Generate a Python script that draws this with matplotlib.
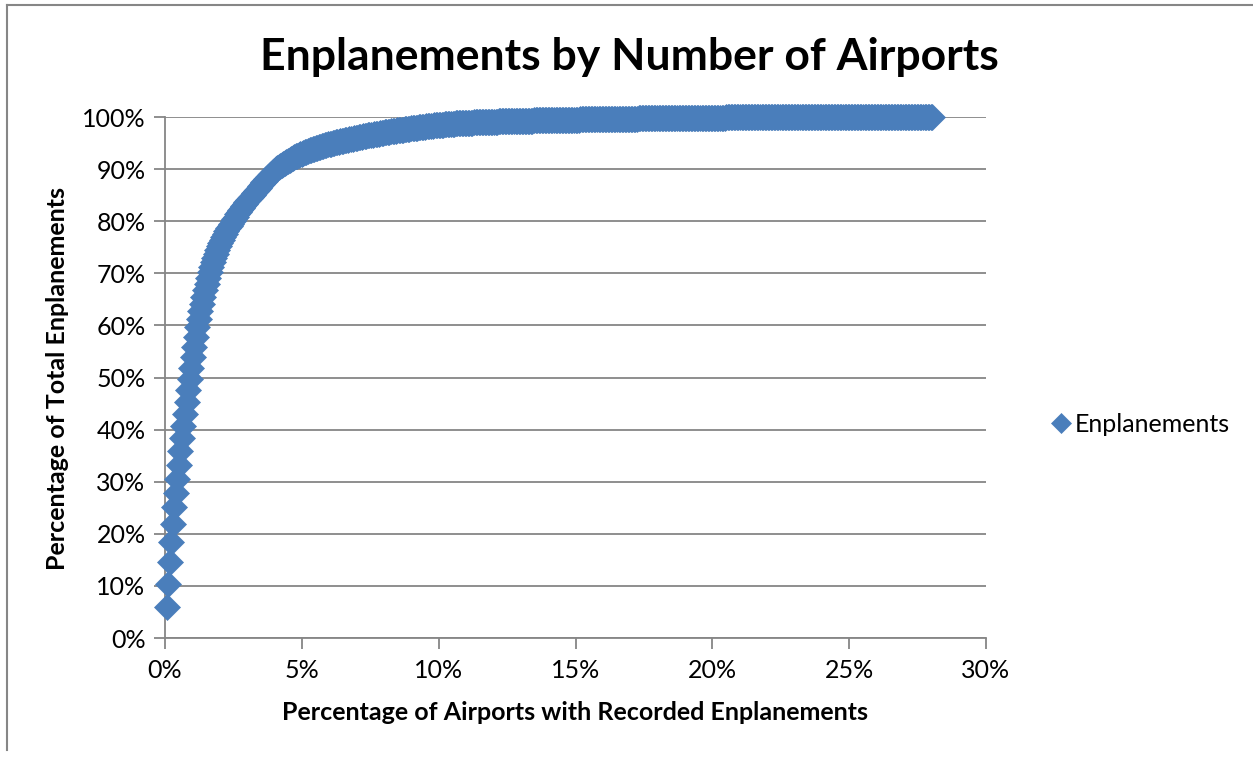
import numpy as np
import matplotlib
matplotlib.use("Agg")
import matplotlib.pyplot as plt
from matplotlib.lines import Line2D

# ---- data -------------------------------------------------------------
TITLE = "Enplanements by Number of Airports"
X_LABEL = "Percentage of Airports with Recorded Enplanements"
Y_LABEL = "Percentage of Total Enplanements"
SERIES_NAME = "Enplanements"

# airports with recorded enplanements (denominator of the x axis)
TOTAL_AIRPORTS = 1780

# cumulative share of total enplanements (%), airports ranked by size
cumulative_share_pct = [
    6.0, 10.4, 14.6, 18.4, 21.8, 25.1, 27.8, 30.5, 33.3, 35.8, 38.3, 40.7, 43.0, 45.3, 47.6, 49.8,
    51.9, 53.9, 55.85, 57.75, 59.6, 61.2, 62.7, 64.15, 65.5, 66.8, 68.0, 69.15, 70.25,
    71.2, 72.1, 72.95, 73.75, 74.5, 75.2, 75.86, 76.48, 77.06, 77.61, 78.13, 78.62, 79.09, 79.54, 79.97,
    80.42, 80.86, 81.29, 81.71, 82.12, 82.52, 82.91, 83.29, 83.66, 84.02, 84.37, 84.71, 85.04, 85.36,
    85.72, 86.08, 86.43, 86.78, 87.13, 87.47, 87.81, 88.14, 88.47, 88.79, 89.10, 89.40, 89.68, 89.94,
    90.18, 90.41, 90.63, 90.84, 91.04, 91.23, 91.42, 91.60, 91.77, 91.94, 92.10, 92.26, 92.42,
    92.57, 92.71, 92.85, 92.99, 93.12, 93.24, 93.36, 93.48, 93.59, 93.70, 93.81, 93.92,
    94.02, 94.12, 94.21, 94.31, 94.40, 94.49, 94.57, 94.66, 94.74, 94.83, 94.91, 94.99,
    95.06, 95.14, 95.21, 95.28, 95.35, 95.42, 95.48, 95.55, 95.61, 95.68, 95.74,
    95.80, 95.86, 95.92, 95.98, 96.04, 96.10, 96.16, 96.22, 96.28, 96.34, 96.39, 96.45, 96.51, 96.56,
    96.61, 96.67, 96.72, 96.78, 96.83, 96.88, 96.93, 96.98, 97.03, 97.08, 97.13, 97.18, 97.23, 97.28,
    97.32, 97.37, 97.42, 97.46, 97.51, 97.55, 97.60, 97.64, 97.68, 97.73, 97.77, 97.81, 97.85, 97.89,
    97.93, 97.97, 98.01, 98.05, 98.09, 98.12, 98.16, 98.20, 98.23, 98.27, 98.30, 98.34, 98.37, 98.40,
    98.43, 98.47,
    98.501, 98.531, 98.560, 98.588, 98.615, 98.641, 98.666, 98.690, 98.713, 98.735, 98.756,
    98.776, 98.795, 98.813, 98.831, 98.848, 98.865, 98.881, 98.897, 98.912, 98.927, 98.941,
    98.955, 98.969, 98.982, 98.995, 99.007, 99.019, 99.031, 99.043, 99.054, 99.065, 99.076,
    99.087, 99.097, 99.107, 99.117, 99.127, 99.137, 99.146, 99.156, 99.165, 99.174, 99.183,
    99.192, 99.201, 99.209, 99.218, 99.227, 99.236, 99.245, 99.253, 99.262,
    99.270, 99.278, 99.286, 99.294, 99.302, 99.310, 99.318, 99.326, 99.334,
    99.341, 99.348, 99.356, 99.363, 99.370, 99.377, 99.384, 99.392, 99.399,
    99.405, 99.411, 99.418, 99.424, 99.431, 99.437, 99.443, 99.450, 99.456,
    99.462, 99.468, 99.473, 99.479, 99.485, 99.490, 99.496, 99.502, 99.507,
    99.513, 99.518, 99.524, 99.529, 99.535, 99.541, 99.546, 99.552, 99.557, 99.563, 99.569, 99.574,
    99.579, 99.584, 99.589, 99.594, 99.600, 99.605, 99.610, 99.615, 99.620, 99.625, 99.630, 99.635,
    99.640, 99.645, 99.650, 99.654, 99.659, 99.664, 99.669, 99.674, 99.678, 99.683, 99.688, 99.693,
    99.698, 99.702, 99.707, 99.711, 99.716, 99.720, 99.725, 99.729, 99.734, 99.738, 99.743, 99.747,
    99.751, 99.755, 99.758, 99.762, 99.766, 99.770, 99.774, 99.777, 99.781, 99.785,
    99.789, 99.793, 99.796, 99.800, 99.804, 99.808, 99.812, 99.815, 99.819, 99.823,
    99.827, 99.831, 99.834, 99.838, 99.842, 99.846, 99.850, 99.853, 99.857, 99.861,
    99.863, 99.865, 99.868, 99.870, 99.872, 99.874, 99.876, 99.879, 99.881, 99.883,
    99.885, 99.887, 99.890, 99.892, 99.894, 99.896, 99.898, 99.901, 99.903, 99.905,
    99.907, 99.909, 99.912, 99.914, 99.916, 99.918, 99.920, 99.923, 99.925, 99.927,
    99.928, 99.929, 99.931, 99.932, 99.933, 99.934, 99.935, 99.937, 99.938, 99.939,
    99.940, 99.941, 99.943, 99.944, 99.945, 99.946, 99.947, 99.949, 99.950, 99.951,
    99.952, 99.953, 99.955, 99.956, 99.957, 99.958, 99.959, 99.961, 99.962, 99.963,
    99.964, 99.964, 99.965, 99.966, 99.967, 99.967, 99.968, 99.969, 99.970, 99.970,
    99.971, 99.972, 99.972, 99.973, 99.974, 99.974, 99.975, 99.976, 99.977, 99.977,
    99.978, 99.979, 99.979, 99.980, 99.981, 99.981, 99.982, 99.983, 99.984, 99.984,
    99.984, 99.985, 99.985, 99.986, 99.986, 99.986, 99.987, 99.987, 99.988, 99.988,
    99.988, 99.989, 99.989, 99.990, 99.990, 99.990, 99.991, 99.991, 99.992, 99.992,
    99.992, 99.993, 99.993, 99.994, 99.994, 99.994, 99.995, 99.995, 99.996, 99.996,
    99.996, 99.996, 99.996, 99.997, 99.997, 99.997, 99.997, 99.997, 99.997, 99.997,
    99.998, 99.998, 99.998, 99.998, 99.998, 99.998, 99.998, 99.998,
    99.999, 99.999, 99.999, 99.999, 99.999, 99.999, 99.999, 99.999, 99.999,
    100.0, 100.0, 100.0, 100.0, 100.0, 100.0, 100.0,
]

x_ticks = [0.00, 0.05, 0.10, 0.15, 0.20, 0.25, 0.30]
x_tick_labels = ["0%", "5%", "10%", "15%", "20%", "25%", "30%"]
y_ticks = [0.0, 0.1, 0.2, 0.3, 0.4, 0.5, 0.6, 0.7, 0.8, 0.9, 1.0]
y_tick_labels = ["0%", "10%", "20%", "30%", "40%", "50%", "60%", "70%", "80%", "90%", "100%"]

# ---- style ------------------------------------------------------------
BLUE = "#4a7ebb"
GRID = "#868686"
TEXT = "#000000"

plt.rcParams["font.family"] = ["Lato", "DejaVu Sans"]

W, H = 1253, 757
fig = plt.figure(figsize=(W / 100, H / 100), dpi=100)
fig.patch.set_facecolor("white")

# chart-area border (left and top edges)
fig.add_artist(Line2D([7 / W, 7 / W], [1 - 5 / H, 1 - 750 / H],
                      transform=fig.transFigure, color=GRID, lw=1.5))
fig.add_artist(Line2D([7 / W, 1.0], [1 - 5 / H, 1 - 5 / H],
                      transform=fig.transFigure, color=GRID, lw=1.5))

ax = fig.add_axes([165 / W, 1 - 638 / H, 821 / W, 521 / H])

airport_frac = np.arange(1, len(cumulative_share_pct) + 1) / TOTAL_AIRPORTS
share_frac = np.asarray(cumulative_share_pct) / 100.0

ax.plot(airport_frac, share_frac, linestyle="none", marker="D", markersize=13,
        markerfacecolor=BLUE, markeredgecolor=BLUE, markeredgewidth=0.5,
        clip_on=False, zorder=3, label=SERIES_NAME)

ax.set_xlim(0, 0.30)
ax.set_ylim(0, 1.0)
ax.set_xticks(x_ticks)
ax.set_xticklabels(x_tick_labels)
ax.set_yticks(y_ticks)
ax.set_yticklabels(y_tick_labels)

ax.yaxis.grid(True, color=GRID, linewidth=1.3)
ax.xaxis.grid(False)
ax.set_axisbelow(True)

for side in ("top", "right"):
    ax.spines[side].set_visible(False)
for side in ("left", "bottom"):
    ax.spines[side].set_color(GRID)
    ax.spines[side].set_linewidth(1.3)

ax.tick_params(axis="both", direction="out", length=8, width=1.3, color=GRID,
               labelsize=18, labelcolor=TEXT)
ax.tick_params(axis="x", pad=7)
ax.tick_params(axis="y", pad=6)

fig.text(629 / W, 1 - 57 / H, TITLE, ha="center", va="center",
         fontsize=32, fontweight="bold", color=TEXT)
fig.text(575.5 / W, 1 - 713 / H, X_LABEL, ha="center", va="center",
         fontsize=18, fontweight="bold", color=TEXT)
fig.text(58 / W, 1 - 378 / H, Y_LABEL, ha="center", va="center", rotation=90,
         fontsize=18, fontweight="bold", color=TEXT)

ax.legend(loc="center left", bbox_to_anchor=(1050 / W, 1 - 424 / H),
          bbox_transform=fig.transFigure, frameon=False, fontsize=18,
          handletextpad=0.1, handlelength=0.9, markerscale=0.8,
          borderpad=0, borderaxespad=0)

fig.savefig("out.png", dpi=100, facecolor="white")
